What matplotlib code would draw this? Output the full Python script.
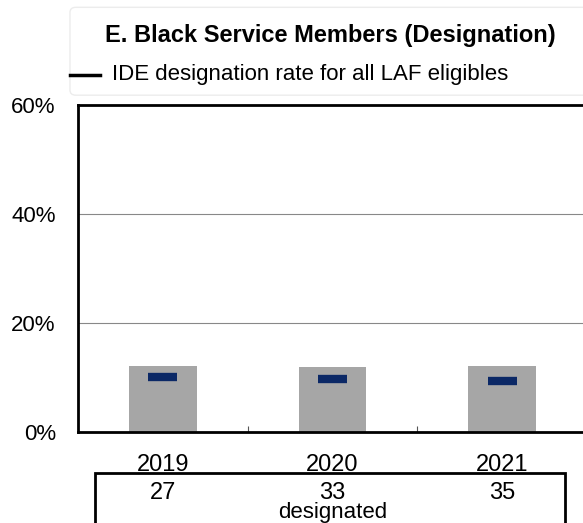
import numpy as np
import matplotlib.pyplot as plt
from matplotlib.patches import FancyBboxPatch, Rectangle
from matplotlib.lines import Line2D
import matplotlib.transforms as mtransforms

plt.rcParams['font.family'] = ['Liberation Sans', 'DejaVu Sans']

# Designation data
years = ['2019', '2020', '2021']
black_rate = [12.1, 11.9, 12.1]        # % of Black LAF eligibles designated
all_rate = [10.1, 9.7, 9.4]            # IDE designation rate, all LAF eligibles
designated = [27, 33, 35]
yticks = [0, 20, 40, 60]

fig = plt.figure(figsize=(5.83, 5.23), dpi=100)
ax = fig.add_axes([0.1338, 0.174, 0.873, 0.625])

x = np.arange(len(years))
ax.bar(x, black_rate, width=0.4, color='#a6a6a6', zorder=2)
ax.hlines(all_rate, x - 0.085, x + 0.085, colors='#0b2866', linewidth=6, zorder=3)

ax.set_xlim(-0.5, 2.5)
ax.set_ylim(0, 60)
ax.set_yticks(yticks)
ax.set_yticklabels([f'{v}%' for v in yticks], fontsize=16)
ax.set_xticks(x)
ax.set_xticklabels(years, fontsize=17)
ax.set_xticks([0.5, 1.5], minor=True)
ax.tick_params(axis='x', which='major', length=0, pad=16)
ax.tick_params(axis='x', which='minor', direction='in', length=4, width=0.8, color='#555555')
ax.tick_params(axis='y', length=0, pad=16)
ax.grid(axis='y', color='#888888', linewidth=0.8, zorder=0)

for side in ['left', 'bottom', 'top']:
    ax.spines[side].set_linewidth(2)
ax.spines['right'].set_visible(False)

# Legend panel with title
panel = FancyBboxPatch((0.12, 0.818), 0.95, 0.168, transform=fig.transFigure,
                       boxstyle='round,pad=0,rounding_size=0.01',
                       facecolor='white', edgecolor='#ececec', linewidth=1)
fig.patches.append(panel)
fig.text(0.567, 0.932, 'E. Black Service Members (Designation)', ha='center', va='center',
         fontsize=17, fontweight='bold')
fig.lines.append(Line2D([0.12, 0.172], [0.856, 0.856], transform=fig.transFigure,
                        color='black', linewidth=2.5))
fig.text(0.192, 0.858, 'IDE designation rate for all LAF eligibles', ha='left', va='center',
         fontsize=16)

# Count table under the axis
trans = mtransforms.blended_transform_factory(ax.transData, fig.transFigure)
fig.patches.append(Rectangle((0.163, -0.05), 0.806, 0.146, transform=fig.transFigure,
                             facecolor='none', edgecolor='black', linewidth=2))
for xi, n in zip(x, designated):
    fig.text(xi, 0.058, str(n), transform=trans, ha='center', va='center', fontsize=17)
fig.text(1, 0.02, 'designated', transform=trans, ha='center', va='center', fontsize=16)

fig.savefig('out.png', dpi=100)
